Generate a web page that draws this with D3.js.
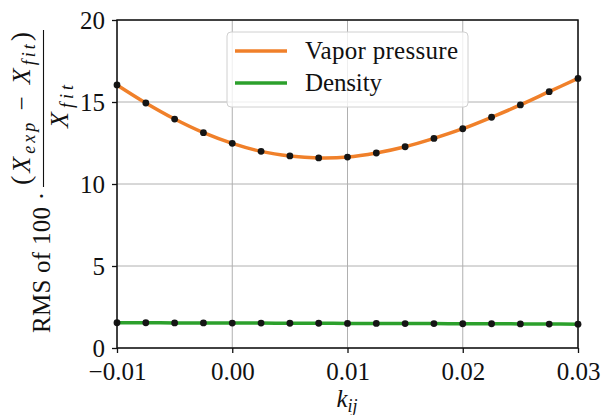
<!DOCTYPE html>
<html>
<head>
<meta charset="utf-8">
<script src="https://cdn.jsdelivr.net/npm/d3@7"></script>
</head>
<body style="margin:0; background:#fff">
<svg id="chart" width="602" height="415" font-family="Liberation Serif"></svg>
<script>
// k_ij values sampled for the fit
const kij = [-0.01, -0.0075, -0.005, -0.0025, 0.0, 0.0025, 0.005, 0.0075, 0.01,
             0.0125, 0.015, 0.0175, 0.02, 0.0225, 0.025, 0.0275, 0.03];
const vaporPressure = [16.04, 14.94, 13.96, 13.13, 12.48, 11.99, 11.71, 11.59, 11.64,
                       11.89, 12.27, 12.78, 13.37, 14.07, 14.82, 15.63, 16.44];
const density = [1.54, 1.54, 1.53, 1.53, 1.52, 1.52, 1.51, 1.51, 1.50,
                 1.50, 1.49, 1.49, 1.48, 1.48, 1.47, 1.46, 1.45];
const xTicks = [-0.01, 0.0, 0.01, 0.02, 0.03];
const yTicks = [0, 5, 10, 15, 20];

const FONT = 'Liberation Serif';
const INK = '#111';

const svg = d3.select('#chart');
const margin = {left: 117, right: 24, top: 20, bottom: 67};
const width = 602 - margin.left - margin.right;
const height = 415 - margin.top - margin.bottom;

const x = d3.scaleLinear().domain([-0.01, 0.03]).range([0, width]);
const y = d3.scaleLinear().domain([0, 20]).range([height, 0]);

const g = svg.append('g')
    .attr('transform', `translate(${margin.left}, ${margin.top})`);

// grid
const grid = g.append('g').attr('class', 'grid');

grid.selectAll('line.gx')
    .data(xTicks)
    .enter().append('line')
    .attr('class', 'gx')
    .attr('x1', d => x(d)).attr('x2', d => x(d))
    .attr('y1', 0).attr('y2', height)
    .attr('stroke', '#b0b0b0').attr('stroke-width', 1);

grid.selectAll('line.gy')
    .data(yTicks)
    .enter().append('line')
    .attr('class', 'gy')
    .attr('x1', 0).attr('x2', width)
    .attr('y1', d => y(d)).attr('y2', d => y(d))
    .attr('stroke', '#b0b0b0').attr('stroke-width', 1);

// series
const series = [
    {name: 'Vapor pressure', values: vaporPressure, color: '#f0802a', len: 153},
    {name: 'Density', values: density, color: '#2ca02c', len: 77}
];

const line = d3.line()
    .x((d, i) => x(kij[i]))
    .y(d => y(d))
    .curve(d3.curveCatmullRom);

series.forEach(s => {
    g.append('path')
        .datum(s.values)
        .attr('d', line)
        .attr('fill', 'none')
        .attr('stroke', s.color)
        .attr('stroke-width', 3.5);
});

series.forEach(s => {
    g.append('g')
        .selectAll('circle')
        .data(s.values)
        .enter().append('circle')
        .attr('cx', (d, i) => x(kij[i]))
        .attr('cy', d => y(d))
        .attr('r', 3.4)
        .attr('fill', '#151515');
});

// axes
const xAxis = g.append('g')
    .attr('transform', `translate(0, ${height})`)
    .call(d3.axisBottom(x).tickValues(xTicks).tickFormat(d3.format('.2f')).tickSize(5).tickPadding(9).tickSizeOuter(0));

const yAxis = g.append('g')
    .call(d3.axisLeft(y).tickValues(yTicks).tickFormat(d3.format('d')).tickSize(5).tickPadding(7).tickSizeOuter(0));

[xAxis, yAxis].forEach(a => {
    a.attr('font-family', FONT).attr('font-size', 25);
    a.select('.domain').remove();
    a.selectAll('line').attr('stroke', INK).attr('stroke-width', 1.3);
    a.selectAll('text')
        .attr('fill', INK)
        .attr('font-family', FONT)
        .attr('font-size', 25);
});

// frame
g.append('rect')
    .attr('width', width)
    .attr('height', height)
    .attr('fill', 'none')
    .attr('stroke', INK)
    .attr('stroke-width', 1.5);

// legend
const legend = g.append('g')
    .attr('transform', `translate(${227 - margin.left}, ${32 - margin.top})`);

legend.append('rect')
    .attr('width', 241)
    .attr('height', 75)
    .attr('rx', 4)
    .attr('fill', 'white')
    .attr('fill-opacity', 0.8)
    .attr('stroke', '#d0d0d0')
    .attr('stroke-width', 1);

series.forEach((s, i) => {
    const ly = 19 + i * 32;
    legend.append('line')
        .attr('x1', 8).attr('x2', 60)
        .attr('y1', ly).attr('y2', ly)
        .attr('stroke', s.color)
        .attr('stroke-width', 3.5);
    legend.append('text')
        .text(s.name)
        .attr('x', 78)
        .attr('y', ly + 7.5)
        .attr('font-family', FONT)
        .attr('font-size', 25)
        .attr('textLength', s.len)
        .attr('lengthAdjust', 'spacing')
        .attr('fill', INK);
});

// x label
const xl = svg.append('text')
    .attr('x', 347)
    .attr('y', 407)
    .attr('text-anchor', 'middle')
    .attr('font-family', FONT)
    .attr('font-size', 25)
    .attr('font-style', 'italic')
    .attr('fill', INK);
xl.append('tspan').text('k');
xl.append('tspan').text('ij').attr('font-size', 18).attr('dy', 5);

// y label (rotated), local coords: u along the axis, v across
const yl = svg.append('g')
    .attr('transform', 'translate(0, 415) rotate(-90)')
    .attr('fill', INK);

yl.append('text')
    .attr('x', 82)
    .attr('y', 50)
    .attr('font-family', FONT)
    .attr('font-size', 25)
    .attr('textLength', 141)
    .attr('lengthAdjust', 'spacing')
    .text('RMS of 100 \u00b7');

const num = yl.append('text')
    .attr('x', 230)
    .attr('y', 30)
    .attr('font-family', FONT)
    .attr('font-size', 25)
    .attr('textLength', 153)
    .attr('lengthAdjust', 'spacing');
num.append('tspan').text('(').attr('font-size', 28);
num.append('tspan').text('X').attr('font-style', 'italic').attr('font-size', 26);
num.append('tspan').text('exp').attr('font-style', 'italic').attr('font-size', 18).attr('dy', 5);
num.append('tspan').text(' \u2212 ').attr('dy', -5);
num.append('tspan').text('X').attr('font-style', 'italic').attr('font-size', 26);
num.append('tspan').text('fit').attr('font-style', 'italic').attr('font-size', 18).attr('dy', 5);
num.append('tspan').text(')').attr('font-size', 28).attr('dy', -5);

yl.append('line')
    .attr('x1', 228).attr('x2', 385)
    .attr('y1', 43.5).attr('y2', 43.5)
    .attr('stroke', INK)
    .attr('stroke-width', 1.1);

const den = yl.append('text')
    .attr('x', 287)
    .attr('y', 68)
    .attr('font-family', FONT)
    .attr('font-size', 25)
    .attr('textLength', 43)
    .attr('lengthAdjust', 'spacing');
den.append('tspan').text('X').attr('font-style', 'italic').attr('font-size', 26);
den.append('tspan').text('fit').attr('font-style', 'italic').attr('font-size', 18).attr('dy', 5);
</script>
</body>
</html>
